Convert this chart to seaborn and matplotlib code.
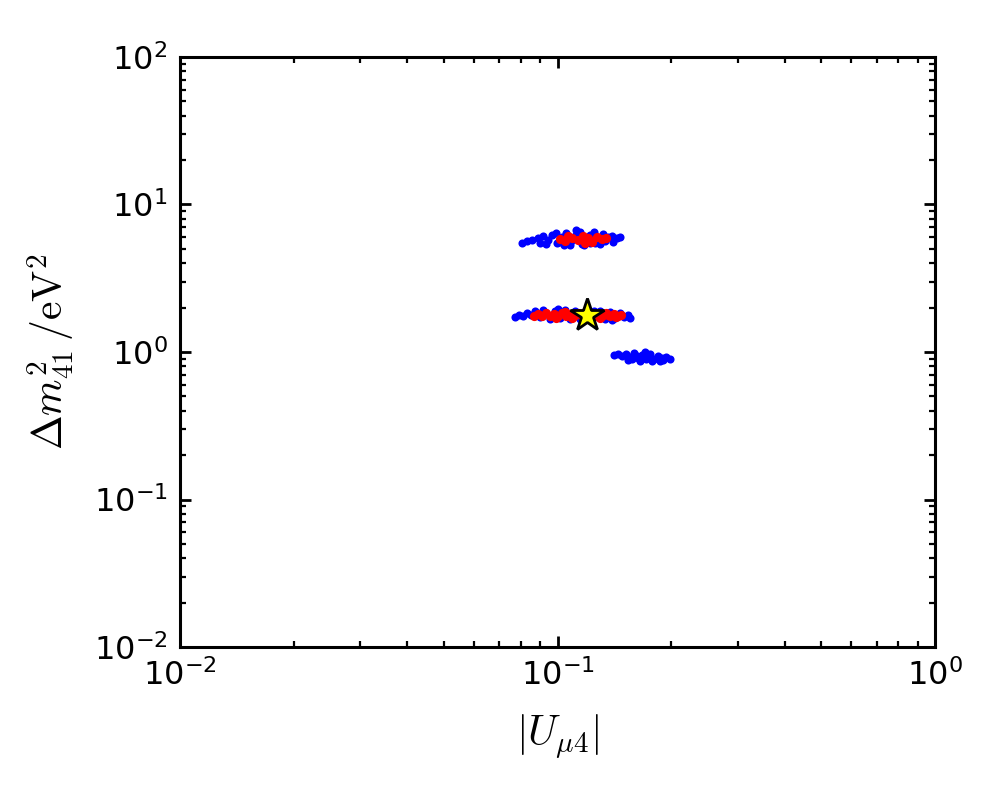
import numpy as np
import matplotlib
matplotlib.use("Agg")
import matplotlib.pyplot as plt
import seaborn as sns

# points (|U_mu4|, dm2_41 in eV^2)
# upper island, blue (allowed at the looser level)
top_blue_x = [0.0805, 0.0830, 0.0856, 0.0887, 0.0916, 0.0944, 0.0967, 0.0997, 0.1028, 0.1053,
              0.1086, 0.1113, 0.1147, 0.1182, 0.1219, 0.1249, 0.1288, 0.1320, 0.1361, 0.1395,
              0.1438, 0.1465, 0.0899, 0.0991, 0.1079, 0.1175, 0.1295, 0.1403, 0.1120, 0.1219,
              0.0930, 0.1010, 0.1160, 0.1260, 0.1340, 0.1040]
top_blue_y = [5.48, 5.65, 5.74, 5.93, 6.11, 5.74, 6.21, 5.48, 6.02, 6.41,
              5.65, 6.11, 6.51, 5.74, 6.21, 6.51, 5.84, 6.31, 6.02, 6.11,
              5.93, 6.02, 5.48, 6.41, 5.31, 5.31, 5.40, 5.57, 6.71, 5.48,
              5.40, 5.57, 5.40, 5.48, 5.65, 5.31]
top_red_x = [0.1015, 0.1047, 0.1093, 0.1133, 0.1168, 0.1205, 0.1235, 0.1273, 0.1312, 0.1344,
             0.1066, 0.1182]
top_red_y = [5.84, 5.65, 5.93, 5.74, 6.11, 5.93, 5.57, 6.02, 5.84, 5.93, 6.11, 5.48]

# middle island
mid_blue_x = [0.0772, 0.0791, 0.0810, 0.0830, 0.0851, 0.0872, 0.0899, 0.0927, 0.0955, 0.0985,
              0.1015, 0.1047, 0.1079, 0.1113, 0.1147, 0.1219, 0.1295, 0.1336, 0.1378, 0.1420,
              0.1465, 0.1501, 0.1538, 0.1556, 0.1395, 0.0916, 0.1003, 0.1180, 0.1250]
mid_blue_y = [1.727, 1.781, 1.754, 1.838, 1.781, 1.897, 1.727, 1.867, 1.674, 1.897,
              1.700, 1.927, 1.674, 1.897, 1.674, 1.674, 1.897, 1.674, 1.867, 1.700,
              1.838, 1.727, 1.781, 1.700, 1.648, 1.927, 1.957, 1.674, 1.897]
mid_red_x = [0.0866, 0.0888, 0.0910, 0.0932, 0.0955, 0.0979, 0.1003, 0.1028, 0.1053, 0.1079,
             0.1106, 0.1133, 0.1161, 0.1219, 0.1265, 0.1312, 0.1344, 0.1378, 0.1412, 0.1447,
             0.1474, 0.0991, 0.1093, 0.1295, 0.1047, 0.1182, 0.1240, 0.1290, 0.1360, 0.1430]
mid_red_y = [1.754, 1.810, 1.754, 1.838, 1.754, 1.810, 1.754, 1.838, 1.754, 1.810,
             1.754, 1.838, 1.754, 1.781, 1.810, 1.754, 1.838, 1.754, 1.810, 1.754,
             1.781, 1.700, 1.700, 1.700, 1.867, 1.867, 1.727, 1.781, 1.781, 1.727]

# lower island, blue only
low_blue_x = [0.1412, 0.1447, 0.1483, 0.1519, 0.1556, 0.1595, 0.1634, 0.1674, 0.1716, 0.1758,
              0.1802, 0.1846, 0.1892, 0.1938, 0.1986, 0.1538, 0.1654, 0.1780, 0.1869, 0.1705,
              0.1580, 0.1740, 0.1900, 0.1620]
low_blue_y = [0.953, 0.969, 0.938, 0.969, 0.924, 0.984, 0.909, 0.953, 0.895, 0.969,
              0.895, 0.938, 0.909, 0.924, 0.895, 0.881, 0.867, 0.867, 0.867, 1.000,
              0.895, 0.924, 0.881, 0.938]

best_fit_x = [0.1197]
best_fit_y = [1.781]

sns.set_style("ticks")
plt.rcParams["font.family"] = ["DejaVu Sans"]
plt.rcParams["text.color"] = "black"
plt.rcParams["axes.labelcolor"] = "black"
plt.rcParams["xtick.color"] = "black"
plt.rcParams["ytick.color"] = "black"

fig = plt.figure(figsize=(10, 8), dpi=100)
ax = fig.add_axes([0.18, 0.191, 0.755, 0.738])

blue_x = top_blue_x + mid_blue_x + low_blue_x
blue_y = top_blue_y + mid_blue_y + low_blue_y
red_x = top_red_x + mid_red_x
red_y = top_red_y + mid_red_y

sns.scatterplot(x=blue_x, y=blue_y, color="blue", s=34, linewidth=0, ax=ax, zorder=2)
sns.scatterplot(x=red_x, y=red_y, color="red", s=44, linewidth=0, ax=ax, zorder=3)
ax.plot(best_fit_x, best_fit_y, marker="*", markersize=25, color="yellow",
        markeredgecolor="black", markeredgewidth=2, linestyle="none", zorder=4)

ax.set_xscale("log")
ax.set_yscale("log")
ax.set_xlim(1e-2, 1e0)
ax.set_ylim(1e-2, 1e2)

ax.set_xlabel(r"$|U_{\mu 4}|$", fontsize=30, math_fontfamily="cm", labelpad=14)
ax.set_ylabel(r"$\Delta m^2_{41}\,/\mathrm{eV}^2$", fontsize=30, math_fontfamily="cm", labelpad=12)

ax.tick_params(which="both", direction="in", top=True, right=True, labelsize=23)
ax.tick_params(which="major", length=8, width=2, pad=9)
ax.tick_params(which="minor", length=4, width=1.6)
for sp in ax.spines.values():
    sp.set_linewidth(2.2)
    sp.set_color("black")

fig.savefig("out.png", dpi=100)
